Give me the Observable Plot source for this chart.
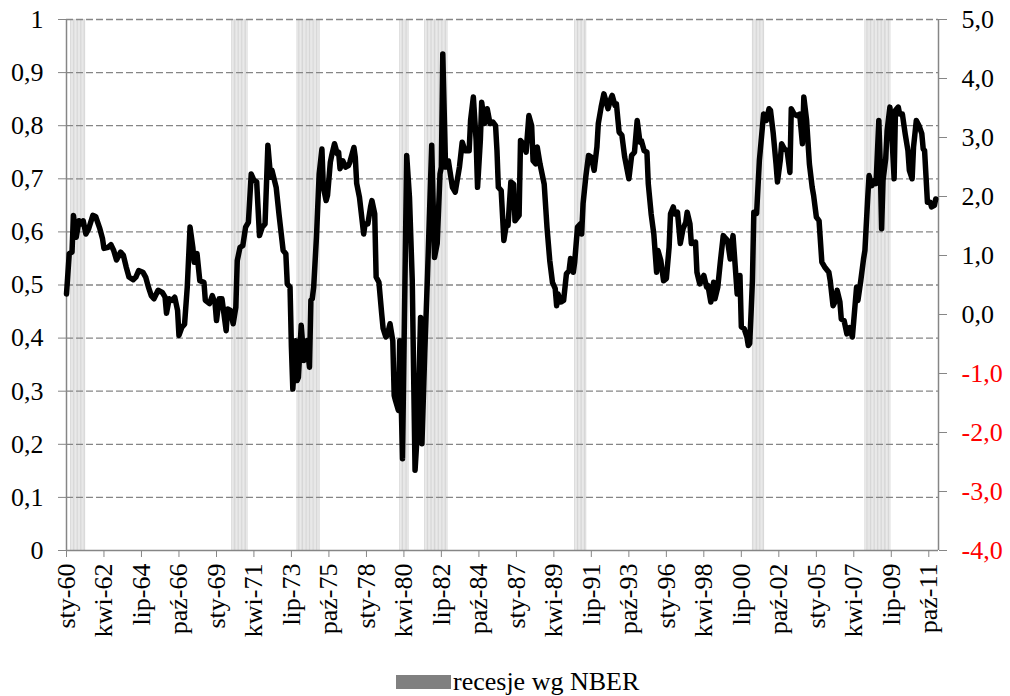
<!DOCTYPE html>
<html>
<head>
<meta charset="utf-8">
<script src="https://cdn.jsdelivr.net/npm/d3@7"></script>
<script src="https://cdn.jsdelivr.net/npm/@observablehq/plot@0.6"></script>
<style>
  html, body { margin: 0; padding: 0; background: #fff; }
  #wrap { width: 1010px; height: 696px; position: relative; font-family: "Liberation Serif", "Times New Roman", serif; }
  #legend { position: relative; width: 1010px; height: 36px; }
  #legend .sw { position: absolute; left: 396px; top: 15px; width: 55px; height: 14px; background: #808080; }
  #legend .tx { position: absolute; left: 453px; top: 9px; font-size: 26px; line-height: 25px; color: #000; white-space: nowrap; }
</style>
</head>
<body>
<div id="wrap">
  <div id="chart"></div>
  <div id="legend"><div class="sw"></div><div class="tx">recesje wg NBER</div></div>
</div>
<script>
// ---- data ----
const lineDates = [
"1960-01","1960-03","1960-05","1960-06","1960-08","1960-10","1960-12","1961-01","1961-03","1961-05","1961-08","1961-10",
"1962-01","1962-03","1962-04","1962-07","1962-09","1962-11","1963-01","1963-04","1963-06","1963-08","1963-10",
"1964-01","1964-03","1964-05","1964-08","1964-10","1964-12","1965-02","1965-04","1965-07","1965-10","1965-12",
"1966-01","1966-03","1966-05","1966-07","1966-09","1966-10","1966-12","1967-02","1967-04","1967-06","1967-08","1967-09","1967-11",
"1968-01","1968-04","1968-05","1968-08","1968-10","1968-12","1969-01","1969-03","1969-05","1969-08","1969-09","1969-11",
"1970-01","1970-03","1970-04","1970-06","1970-08","1970-10","1970-12","1971-02","1971-04","1971-06","1971-08","1971-10","1971-12",
"1972-02","1972-04","1972-05","1972-08","1972-10","1973-01","1973-03","1973-04","1973-06","1973-07","1973-08","1973-10","1973-11","1973-12",
"1974-02","1974-04","1974-06","1974-08","1974-09","1974-10","1974-11","1975-01","1975-03","1975-05","1975-06","1975-08","1975-09","1975-11","1975-12",
"1976-02","1976-04","1976-05","1976-06","1976-08","1976-10","1976-12","1977-01","1977-04","1977-05","1977-06","1977-08","1977-11","1977-12",
"1978-02","1978-04","1978-05","1978-07","1978-08","1978-10","1978-12","1979-01","1979-03","1979-04","1979-06","1979-08","1979-09","1979-10","1979-12",
"1980-01","1980-03","1980-06","1980-08","1980-10","1980-12","1981-02","1981-04","1981-05","1981-07","1981-09","1981-12",
"1982-02","1982-04","1982-06","1982-07","1982-08","1982-10","1982-12","1983-03","1983-05","1983-08","1983-10","1983-12",
"1984-03","1984-04","1984-06","1984-08","1984-09","1984-11","1984-12","1985-02","1985-04","1985-06","1985-08","1985-10","1985-11","1985-12",
"1986-02","1986-04","1986-06","1986-07","1986-09","1986-11","1986-12","1987-03","1987-04","1987-06","1987-08","1987-10","1987-12",
"1988-01","1988-03","1988-04","1988-06","1988-09","1988-11","1989-01","1989-03","1989-05","1989-06","1989-07","1989-09","1989-11",
"1990-01","1990-03","1990-04","1990-06","1990-07","1990-09","1990-11","1990-12","1991-01","1991-03","1991-05","1991-07","1991-09","1991-11","1991-12",
"1992-02","1992-04","1992-06","1992-07","1992-09","1992-10","1992-12","1993-01","1993-03","1993-05","1993-07","1993-10","1993-12",
"1994-02","1994-04","1994-06","1994-07","1994-09","1994-11","1994-12","1995-02","1995-04","1995-06","1995-07","1995-09","1995-11",
"1996-01","1996-03","1996-04","1996-06","1996-07","1996-09","1996-11","1997-01","1997-03","1997-04","1997-06","1997-07","1997-10","1997-11",
"1998-01","1998-04","1998-06","1998-07","1998-09","1998-11","1998-12","1999-02","1999-04","1999-06","1999-07","1999-09","1999-11",
"2000-01","2000-03","2000-04","2000-06","2000-07","2000-09","2000-11","2000-12","2001-01","2001-02","2001-03","2001-04","2001-06","2001-08","2001-11",
"2002-01","2002-03","2002-04","2002-06","2002-08","2002-09","2002-11","2002-12","2003-02","2003-04","2003-06","2003-07","2003-09","2003-11",
"2004-01","2004-03","2004-04","2004-06","2004-08","2004-10","2004-11","2005-01","2005-03","2005-05","2005-07","2005-10","2005-11",
"2006-01","2006-03","2006-04","2006-06","2006-07","2006-09","2006-11","2007-01","2007-03","2007-04","2007-06","2007-07","2007-09","2007-11","2007-12",
"2008-02","2008-03","2008-05","2008-07","2008-08","2008-10","2008-11","2008-12","2009-01","2009-03","2009-04","2009-06","2009-07","2009-09","2009-10","2009-12",
"2010-01","2010-03","2010-05","2010-07","2010-08","2010-10","2010-11","2011-01","2011-03","2011-05","2011-06","2011-07","2011-09","2011-11","2011-12",
"2012-02","2012-03"
];
const lineValues = [
0.483,0.559,0.562,0.631,0.590,0.621,0.615,0.621,0.596,0.606,0.631,0.629,
0.606,0.587,0.569,0.571,0.576,0.565,0.547,0.562,0.556,0.534,0.515,
0.510,0.515,0.527,0.524,0.515,0.496,0.480,0.474,0.490,0.486,0.477,
0.447,0.474,0.471,0.477,0.452,0.405,0.420,0.426,0.496,0.609,0.571,0.543,0.559,
0.508,0.505,0.471,0.465,0.480,0.465,0.433,0.474,0.474,0.414,0.455,0.452,
0.427,0.458,0.546,0.571,0.574,0.609,0.618,0.709,0.697,0.694,0.593,0.609,0.615,
0.763,0.703,0.716,0.684,0.634,0.565,0.559,0.502,0.496,0.383,0.304,0.395,0.320,0.326,
0.424,0.358,0.395,0.345,0.471,0.474,0.496,0.590,0.709,0.756,0.684,0.659,0.669,0.731,0.744,
0.766,0.747,0.750,0.719,0.734,0.722,0.725,0.731,0.759,0.741,0.691,0.665,0.596,0.615,
0.615,0.647,0.659,0.634,0.515,0.505,0.446,0.418,0.402,0.405,0.427,0.395,0.292,0.282,0.264,
0.395,0.173,0.744,0.665,0.508,0.151,0.239,0.439,0.201,0.370,0.521,0.763,
0.552,0.578,0.709,0.722,0.935,0.722,0.734,0.684,0.675,0.722,0.769,0.753,
0.753,0.810,0.854,0.772,0.684,0.772,0.844,0.804,0.832,0.804,0.807,0.800,0.753,0.684,
0.678,0.584,0.618,0.612,0.694,0.690,0.621,0.631,0.772,0.766,0.750,0.819,0.800,
0.734,0.728,0.760,0.728,0.690,0.609,0.546,0.505,0.493,0.461,0.483,0.468,0.471,
0.521,0.527,0.550,0.524,0.543,0.609,0.615,0.596,0.653,0.703,0.744,0.741,0.716,0.760,0.804,
0.835,0.860,0.841,0.832,0.851,0.857,0.838,0.841,0.788,0.782,0.741,0.700,0.744,
0.750,0.810,0.769,0.772,0.753,0.750,0.690,0.634,0.596,0.524,0.565,0.546,0.508,
0.512,0.571,0.634,0.647,0.634,0.637,0.578,0.606,0.618,0.637,0.615,0.578,0.581,0.524,
0.502,0.518,0.496,0.499,0.468,0.505,0.474,0.496,0.546,0.593,0.590,0.584,0.549,
0.593,0.521,0.483,0.518,0.421,0.418,0.402,0.386,0.390,0.450,0.508,0.637,0.635,0.735,0.822,
0.810,0.832,0.829,0.785,0.728,0.694,0.734,0.766,0.756,0.753,0.712,0.832,0.822,0.819,
0.822,0.766,0.854,0.810,0.728,0.684,0.669,0.628,0.621,0.543,0.534,0.524,0.508,
0.461,0.471,0.490,0.468,0.436,0.433,0.408,0.420,0.402,0.433,0.496,0.471,0.508,0.549,0.565,
0.665,0.706,0.687,0.697,0.691,0.810,0.728,0.606,0.697,0.738,0.791,0.835,0.804,0.700,0.829,0.835,
0.822,0.822,0.785,0.753,0.716,0.700,0.760,0.810,0.800,0.785,0.756,0.753,0.656,0.656,0.647,
0.650,0.662
];
// NBER recessions (peak and trough months)
const recessionStarts = ["1960-04","1969-12","1973-11","1980-01","1981-07","1990-07","2001-03","2007-12"];
const recessionEnds   = ["1961-02","1970-11","1975-03","1980-07","1982-11","1991-03","2001-11","2009-06"];
// x axis
const xTickDates  = ["1960-01","1962-04","1964-07","1966-10","1969-01","1971-04","1973-07","1975-10","1978-01","1980-04","1982-07","1984-10",
                     "1987-01","1989-04","1991-07","1993-10","1996-01","1998-04","2000-07","2002-10","2005-01","2007-04","2009-07","2011-10"];
const xTickLabels = ["sty-60","kwi-62","lip-64","paź-66","sty-69","kwi-71","lip-73","paź-75","sty-78","kwi-80","lip-82","paź-84",
                     "sty-87","kwi-89","lip-91","paź-93","sty-96","kwi-98","lip-00","paź-02","sty-05","kwi-07","lip-09","paź-11"];
const xStart = "1960-01", xEnd = "2012-05";
// left axis
const leftTicks = [0,0.1,0.2,0.3,0.4,0.5,0.6,0.7,0.8,0.9,1];
const leftTickLabels = ["0","0,1","0,2","0,3","0,4","0,5","0,6","0,7","0,8","0,9","1"];
// right axis
const rightTicks = [-4,-3,-2,-1,0,1,2,3,4,5];
const rightTickLabels = ["-4,0","-3,0","-2,0","-1,0","0,0","1,0","2,0","3,0","4,0","5,0"];
const rightMin = -4, rightMax = 5;

// ---- build ----
const pd = s => { const [y, m] = s.split("-").map(Number); return new Date(Date.UTC(y, m - 1, 1)); };
const series = lineDates.map((d, i) => ({date: pd(d), value: lineValues[i]}));
const recMonths = [];
recessionStarts.forEach((s, i) => {
  let d = pd(s); const e = pd(recessionEnds[i]);
  while (d <= e) { recMonths.push(d); d = new Date(Date.UTC(d.getUTCFullYear(), d.getUTCMonth() + 1, 1)); }
});
const x0 = pd(xStart), x1 = pd(xEnd);
const xTicks = xTickDates.map(pd);
const xLab = new Map(xTicks.map((d, i) => [+d, xTickLabels[i]]));
const leftLab = new Map(leftTicks.map((v, i) => [v, leftTickLabels[i]]));
const toLeft = r => (r - rightMin) / (rightMax - rightMin);
const rightData = rightTicks.map((r, i) => ({y: toLeft(r), label: rightTickLabels[i], neg: r < 0}));
const axisGrey = "#868686";

const chart = Plot.plot({
  width: 1010,
  height: 660,
  marginLeft: 66,
  marginRight: 72,
  marginTop: 19,
  marginBottom: 110,
  style: {fontFamily: "'Liberation Serif', 'Times New Roman', serif", fontSize: "26px", background: "white", color: "black"},
  x: {type: "utc", domain: [x0, x1]},
  y: {domain: [0, 1]},
  marks: [
    Plot.ruleX(recMonths, {x: d => d, y1: 0, y2: 1, stroke: "#c8c8c8", strokeWidth: 0.75}),
    Plot.gridY({ticks: leftTicks.filter(v => v > 0), stroke: axisGrey, strokeOpacity: 1, strokeWidth: 1.3, strokeDasharray: "7,3"}),
    Plot.ruleY([0], {stroke: axisGrey, strokeWidth: 1.5}),
    Plot.ruleX([x0, x1], {stroke: axisGrey, strokeWidth: 1.5}),
    Plot.axisY({anchor: "left", ticks: leftTicks, tickFormat: v => leftLab.get(v), tickSize: 8, tickPadding: 15, stroke: axisGrey, fill: "black", label: null}),
    Plot.axisY({anchor: "right", ticks: rightData.map(d => d.y), tickFormat: () => "", tickSize: 8, stroke: axisGrey, label: null}),
    Plot.text(rightData, {x: () => x1, y: "y", text: "label", dx: 23, textAnchor: "start", fill: d => d.neg ? "#ff0000" : "#000000"}),
    Plot.axisX({ticks: xTicks, tickFormat: d => xLab.get(+d), tickRotate: -90, tickSize: 7, tickPadding: 6, stroke: axisGrey, fill: "black", label: null}),
    Plot.line(series, {x: "date", y: "value", stroke: "black", strokeWidth: 5.5, strokeLinejoin: "round", strokeLinecap: "round"})
  ]
});
document.getElementById("chart").appendChild(chart);
</script>
</body>
</html>
